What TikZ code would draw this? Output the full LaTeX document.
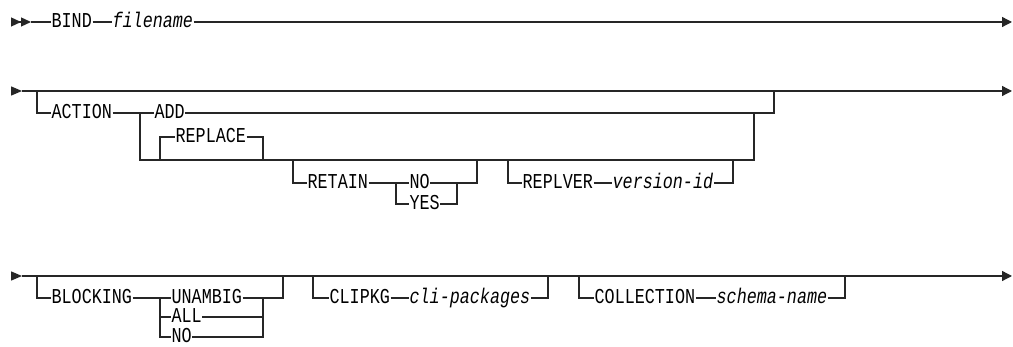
\documentclass[tikz,border=0pt]{standalone}
\usepackage{fontspec}
\setmonofont[FakeStretch=0.79]{Liberation Mono}
\usetikzlibrary{arrows.meta}
\newcommand{\kwd}[1]{\ensuremath{\mbox{\ttfamily #1}}}
\newcommand{\var}[1]{\ensuremath{\mbox{\ttfamily\itshape #1}}}

\begin{document}
\begin{tikzpicture}[x=0.5pt,y=-0.5pt,line width=0.65pt,draw=black!85,
    every node/.style={inner sep=0pt,anchor=west,text height=6pt,text depth=0pt,
      font=\ttfamily\fontsize{10.6}{12}\selectfont},
    endtip/.style={-{Triangle[length=5pt,width=5pt]}},
    starttip/.style={-{Triangle[length=5.5pt,width=4.5pt]}},
    dbltip/.style={-{Triangle[length=5pt,width=4.5pt]Triangle[length=5pt,width=4.5pt]}}]
  \useasboundingbox (0,0) rectangle (1013,347);
  \node (BIND) at (51,22) {\kwd{BIND}};
  \node (FN) at (112,22) {\var{filename}};
  \coordinate (S1) at (11,22);
  \coordinate (S1b) at (31,22);
  \coordinate (E1) at (1012,22);
  \draw[dbltip] (S1) -- (S1b);
  \draw (S1b) -- (BIND) -- (FN);
  \draw[endtip] (FN) -- (E1);

  \node (ACT) at (51,113) {\kwd{ACTION}};
  \node (ADD) at (154,113) {\kwd{ADD}};
  \node (REP) at (175,137) {\kwd{REPLACE}};
  \node (RET) at (307,183) {\kwd{RETAIN}};
  \node (NO) at (409,183) {\kwd{NO}};
  \node (YES) at (409,204) {\kwd{YES}};
  \node (RV) at (522,183) {\kwd{REPLVER}};
  \node (VID) at (612,183) {\var{version-id}};
  \coordinate (S2) at (11,91);
  \coordinate (S2b) at (22,91);
  \coordinate (E2) at (1012,91);
  \coordinate (b1) at (37,91);
  \coordinate (b2) at (774,91);
  \coordinate (j1) at (140,113);
  \coordinate (j2) at (754,113);
  \coordinate (l2) at (754,160);
  \coordinate (r1) at (160,160);
  \coordinate (r2) at (263,160);
  \coordinate (t1) at (293,160);
  \coordinate (t2) at (396,183);
  \coordinate (t3) at (477,160);
  \coordinate (t4) at (457,183);
  \coordinate (v1) at (508,160);
  \coordinate (v2) at (733,160);
  \draw[starttip] (S2) -- (S2b);
  \draw[endtip] (S2b) -- (E2);
  \draw (b1) |- (ACT);
  \draw (ACT) -- (ADD);
  \draw (ADD) -| (b2);
  \draw (j1) |- (l2) -- (j2);
  \draw (r1) |- (REP);
  \draw (REP) -| (r2);
  \draw (t1) |- (RET);
  \draw (RET) -- (NO);
  \draw (t2) |- (YES);
  \draw (NO) -| (t3);
  \draw (YES) -| (t4);
  \draw (v1) |- (RV);
  \draw (RV) -- (VID);
  \draw (VID) -| (v2);

  \node (BLK) at (51,298) {\kwd{BLOCKING}};
  \node (UNA) at (171,298) {\kwd{UNAMBIG}};
  \node (ALL) at (171,317) {\kwd{ALL}};
  \node (NOB) at (171,337) {\kwd{NO}};
  \node (CLI) at (329,298) {\kwd{CLIPKG}};
  \node (CLP) at (409,298) {\var{cli-packages}};
  \node (COL) at (594,298) {\kwd{COLLECTION}};
  \node (SCH) at (716,298) {\var{schema-name}};
  \coordinate (S3) at (11,276);
  \coordinate (S3b) at (22,276);
  \coordinate (E3) at (1012,276);
  \coordinate (k1) at (37,276);
  \coordinate (k2) at (160,298);
  \coordinate (k3) at (263,298);
  \coordinate (k4) at (283,276);
  \coordinate (c1) at (313,276);
  \coordinate (c2) at (548,276);
  \coordinate (o1) at (579,276);
  \coordinate (o2) at (845,276);
  \draw[starttip] (S3) -- (S3b);
  \draw[endtip] (S3b) -- (E3);
  \draw (k1) |- (BLK);
  \draw (BLK) -- (UNA);
  \draw (UNA) -| (k4);
  \draw (k2) |- (ALL);
  \draw (k2) |- (NOB);
  \draw (ALL) -| (k3);
  \draw (NOB) -| (k3);
  \draw (c1) |- (CLI);
  \draw (CLI) -- (CLP);
  \draw (CLP) -| (c2);
  \draw (o1) |- (COL);
  \draw (COL) -- (SCH);
  \draw (SCH) -| (o2);
\end{tikzpicture}
\end{document}
